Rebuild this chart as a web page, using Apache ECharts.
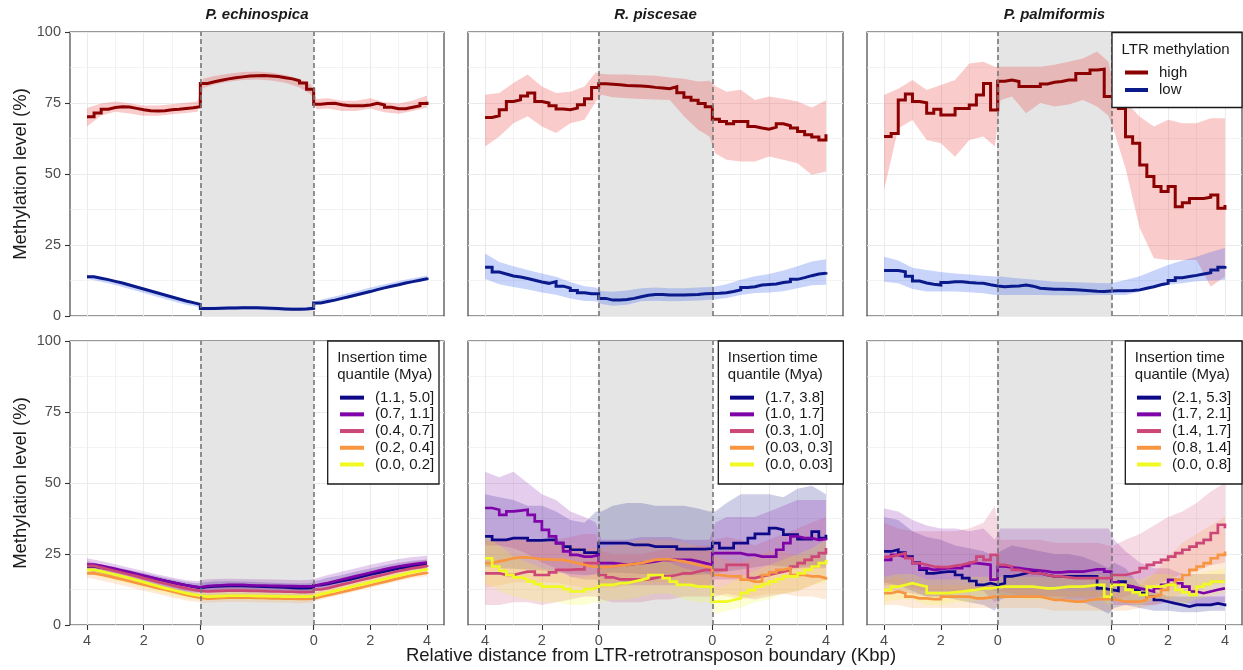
<!DOCTYPE html>
<html>
<head>
<meta charset="utf-8">
<script src="https://cdn.jsdelivr.net/npm/echarts@6/dist/echarts.min.js"></script>
<style>html,body{margin:0;padding:0;background:#fff;}#chart{width:1243px;height:670px;}</style>
</head>
<body>
<div id="chart"></div>
<script>
// ---------------- DATA ----------------
const SPECIES = ['P. echinospica', 'R. piscesae', 'P. palmiformis'];
const METH_GROUPS = ['high', 'low'];
const AGE_LABELS_PE = ['(1.1, 5.0]', '(0.7, 1.1]', '(0.4, 0.7]', '(0.2, 0.4]', '(0.0, 0.2]'];
const AGE_LABELS_RP = ['(1.7, 3.8]', '(1.0, 1.7]', '(0.3, 1.0]', '(0.03, 0.3]', '(0.0, 0.03]'];
const AGE_LABELS_PP = ['(2.1, 5.3]', '(1.7, 2.1]', '(1.4, 1.7]', '(0.8, 1.4]', '(0.0, 0.8]'];
const X_TICKS = [-4, -2, 0, 4, 6, 8];
const X_TICK_LABELS = ['4', '2', '0', '0', '2', '4'];
const X_MINOR = [-3, -1, 1, 2, 3, 5, 7];
const BODY_START = 0, BODY_END = 4;

// bin positions for mean step lines (left flank -4..0, body 0..4, right flank 4..8)
const X = [-4,-3.75,-3.5,-3.25,-3,-2.75,-2.5,-2.25,-2,-1.75,-1.5,-1.25,-1,-0.75,-0.5,-0.25,
  0,0.25,0.5,0.75,1,1.25,1.5,1.75,2,2.25,2.5,2.75,3,3.25,3.5,3.75,
  4,4.25,4.5,4.75,5,5.25,5.5,5.75,6,6.25,6.5,6.75,7,7.25,7.5,7.75,8];
// positions for ribbons
const RX = [-4,-3.5,-3,-2.5,-2,-1.5,-1,-0.5,-0.1,0.1,0.5,1,1.5,2,2.5,3,3.5,3.9,4.1,4.5,5,5.5,6,6.5,7,7.5,8];

// ---- top row: LTR methylation high / low ----
const pe_high = [70.2,71.5,72.8,73.4,73.7,73.6,73.1,72.6,72.3,72.2,72.3,72.6,72.8,73.1,73.3,73.7,
  81.9,82.5,83.0,83.5,83.9,84.2,84.5,84.6,84.7,84.5,84.3,83.9,83.5,82.8,82.0,79.8,
  74.6,74.8,74.9,74.4,74.0,74.0,74.0,74.3,74.9,74.3,73.5,73.0,73.0,73.5,74.0,74.8,75.4];
const pe_high_lo = [66.7,70.6,71.9,71.3,70.5,70.5,71.0,71.5,71.9,80.3,81.5,82.5,83.1,83.3,82.9,82.1,80.5,78.1,72.8,73.1,72.2,72.2,73.1,71.7,71.2,72.2,73.4];
const pe_high_hi = [73.2,74.8,75.5,74.9,74.1,74.1,74.6,75.1,75.5,83.5,84.5,85.3,85.9,86.1,85.7,84.9,83.5,81.5,76.4,76.7,75.8,75.8,76.7,75.3,74.8,75.9,77.6];
const pe_low = [13.8,13.3,12.8,12.2,11.6,10.9,10.2,9.5,8.8,8.1,7.4,6.7,6.0,5.3,4.7,4.1,
  2.6,2.6,2.7,2.8,2.8,2.9,2.9,2.9,2.8,2.7,2.6,2.5,2.4,2.4,2.5,2.7,
  4.6,5.1,5.6,6.2,6.8,7.4,8.0,8.6,9.3,9.9,10.5,11.0,11.6,12.1,12.6,13.1,13.6];
const pe_low_lo = [13.1,12.1,10.9,9.5,8.1,6.7,5.3,4.0,3.3,2.0,2.1,2.2,2.3,2.2,2.0,1.8,1.9,2.1,4.0,4.9,6.1,7.3,8.6,9.8,10.9,11.9,12.9];
const pe_low_hi = [14.5,13.5,12.3,10.9,9.5,8.1,6.7,5.4,4.7,3.2,3.3,3.4,3.5,3.4,3.2,3.0,3.1,3.3,5.4,6.3,7.5,8.7,10.0,11.2,12.3,13.3,14.3];

const rp_high = [69.9,70.5,72.6,75.5,76.1,77.5,78.5,75.5,75.0,74.0,72.9,72.6,73.2,74.4,76.5,80.5,
  81.8,81.6,81.4,81.2,81.1,81.0,80.8,80.5,80.3,80.0,80.7,78.6,77.0,76.0,74.8,73.7,
  69.3,68.5,67.7,68.5,68.5,66.7,66.2,65.8,66.5,67.7,67.0,66.2,65.0,63.8,63.0,62.0,64.0];
const rp_high_lo = [59.7,63.2,67.9,70.3,66.7,64.4,67.9,69.1,75.5,77.9,77.0,76.7,76.4,76.2,76.1,70.3,65.6,63.2,57.3,55.0,54.4,54.4,56.2,55.0,53.8,49.7,50.9];
const rp_high_hi = [77.9,78.5,82.0,85.0,80.8,78.5,79.0,80.8,85.8,85.2,85.0,85.0,84.8,84.6,84.0,83.5,82.6,82.8,81.0,79.0,79.7,76.1,77.3,76.5,75.5,73.4,75.9];
const rp_low = [17.2,15.5,14.8,14.1,13.7,13.2,12.6,12.0,11.5,12.1,10.5,9.8,9.0,8.2,7.8,7.8,
  6.2,5.6,5.6,5.8,6.2,6.8,7.3,7.6,7.6,7.4,7.4,7.4,7.5,7.6,7.8,7.9,
  8.0,8.2,8.6,9.2,10.0,10.3,10.9,11.1,11.3,11.8,12.1,12.9,13.5,14.2,14.8,15.1,15.4];
const rp_low_lo = [13.0,11.2,10.2,9.3,8.3,7.5,6.2,5.3,5.2,4.2,3.6,4.0,5.2,5.4,5.2,5.3,5.5,5.7,5.8,6.3,7.4,8.1,8.3,8.7,9.8,10.8,11.0];
const rp_low_hi = [22.0,19.0,17.5,16.2,15.0,13.8,12.0,10.5,10.0,8.8,8.5,9.0,9.8,10.0,9.8,9.8,10.0,10.2,10.4,11.2,12.8,14.0,14.8,16.0,17.5,19.2,20.0];

const pp_high = [63.2,64.3,76.1,78.2,75.5,75.1,71.4,72.8,70.8,70.8,73.1,73.1,74.3,77.8,81.9,72.5,
  82.7,83.1,82.6,80.8,80.8,80.8,81.7,82.3,82.6,83.1,83.1,85.4,85.4,86.6,86.9,77.3,
  77.1,73.1,63.1,60.8,53.2,49.1,45.6,43.8,45.6,38.5,39.9,41.4,41.4,41.8,42.6,37.9,39.1];
const pp_high_lo = [44.4,66.0,69.0,62.0,60.8,56.1,62.0,63.2,59.7,76.0,77.3,71.4,75.0,73.8,74.5,76.1,73.8,70.5,65.0,52.0,31.0,20.3,19.7,19.7,19.7,10.3,13.9];
const pp_high_hi = [77.8,80.0,83.1,79.6,81.3,83.1,88.9,89.5,87.8,87.8,87.8,87.8,87.8,88.5,89.5,90.7,93.1,89.5,80.0,75.5,70.2,66.7,69.1,67.9,67.9,69.6,69.6];
const pp_low = [16.0,16.0,15.6,14.0,12.3,11.6,11.2,10.9,11.8,12.1,12.1,11.8,11.6,11.5,11.0,10.6,
  10.3,10.5,10.6,10.9,10.5,9.8,9.6,9.4,9.4,9.3,9.2,9.1,8.9,8.7,8.6,8.8,
  8.9,8.9,9.0,9.2,9.8,10.3,11.0,11.5,12.5,13.5,13.9,14.3,14.8,15.2,16.2,17.2,17.6];
const pp_low_lo = [12.1,11.5,9.5,8.6,8.6,8.6,8.4,8.0,7.4,7.4,7.4,7.4,7.4,7.3,7.3,7.3,7.4,7.4,7.4,7.4,8.5,10.0,11.0,11.5,12.2,12.5,12.7];
const pp_low_hi = [20.9,19.5,17.0,16.2,15.5,15.0,14.6,14.2,13.9,13.9,13.5,13.0,12.6,12.1,12.0,11.8,11.6,11.5,11.8,12.7,14.0,16.0,18.0,19.5,20.9,22.5,23.9];

// ---- bottom row: insertion time quantiles (q1 = oldest ... q5 = youngest) ----
const pe_q1 = [20.6,20.2,19.8,19.3,18.8,18.3,17.8,17.2,16.7,16.1,15.6,15.0,14.5,14.0,13.5,13.1,
  13.4,13.6,13.7,13.8,13.8,13.8,13.7,13.6,13.5,13.4,13.3,13.2,13.1,13.0,13.0,13.1,
  14.0,14.5,15.0,15.5,16.0,16.6,17.2,17.8,18.3,18.9,19.4,19.9,20.3,20.7,21.0,21.3,21.5];
const pe_q2 = [21.3,20.8,20.3,19.8,19.2,18.6,18.0,17.4,16.8,16.2,15.6,15.0,14.5,14.0,13.6,13.3,
  13.7,13.9,14.0,14.1,14.1,14.1,14.0,13.9,13.9,13.8,13.8,13.7,13.7,13.6,13.6,13.7,
  14.3,14.8,15.4,16.0,16.6,17.2,17.8,18.4,19.0,19.6,20.1,20.6,21.0,21.4,21.7,22.0,22.2];
const pe_q3 = [20.8,20.2,19.6,19.0,18.4,17.8,17.2,16.5,15.9,15.2,14.6,14.0,13.4,12.9,12.4,12.0,
  11.8,11.9,12.0,12.1,12.1,12.1,12.0,12.0,11.9,11.8,11.8,11.7,11.7,11.6,11.6,11.7,
  12.5,13.0,13.6,14.2,14.8,15.4,16.0,16.6,17.2,17.8,18.4,19.0,19.5,20.0,20.4,20.8,21.1];
const pe_q4 = [18.2,17.7,17.2,16.6,16.0,15.4,14.8,14.2,13.6,13.0,12.4,11.8,11.2,10.6,10.1,9.6,
  9.3,9.4,9.5,9.6,9.6,9.6,9.6,9.5,9.5,9.4,9.4,9.3,9.3,9.2,9.2,9.3,
  10.0,10.5,11.0,11.6,12.2,12.8,13.4,14.0,14.6,15.2,15.8,16.4,17.0,17.5,18.0,18.4,18.7];
const pe_q5 = [19.4,18.9,18.3,17.7,17.1,16.5,15.8,15.1,14.4,13.7,13.0,12.4,11.8,11.2,10.7,10.3,
  10.0,10.1,10.2,10.3,10.3,10.3,10.3,10.2,10.2,10.1,10.1,10.0,10.0,10.0,10.0,10.1,
  10.8,11.4,12.0,12.6,13.2,13.8,14.4,15.0,15.6,16.2,16.8,17.4,18.0,18.6,19.1,19.6,20.0];
const pe_q1_lo = [19.0,18.2,17.2,16.2,15.1,14.0,12.9,11.9,11.5,11.8,12.1,12.2,12.1,11.9,11.7,11.5,11.4,11.5,12.4,13.4,14.4,15.6,16.7,17.8,18.7,19.4,19.9];
const pe_q1_hi = [22.2,21.4,20.4,19.4,18.3,17.2,16.1,15.1,14.7,15.0,15.3,15.4,15.3,15.1,14.9,14.7,14.6,14.7,15.6,16.6,17.6,18.8,19.9,21.0,21.9,22.6,23.1];
const pe_q2_lo = [19.1,18.1,17.0,15.8,14.6,13.4,12.3,11.4,11.1,11.5,11.8,11.9,11.8,11.7,11.6,11.5,11.4,11.5,12.1,13.2,14.4,15.6,16.8,17.9,18.8,19.5,20.0];
const pe_q2_hi = [23.5,22.5,21.4,20.2,19.0,17.8,16.7,15.8,15.5,15.9,16.2,16.3,16.2,16.1,16.0,15.9,15.8,15.9,16.5,17.6,18.8,20.0,21.2,22.3,23.2,23.9,24.4];
const pe_q3_lo = [19.0,17.8,16.6,15.4,14.1,12.8,11.6,10.6,10.2,10.0,10.2,10.3,10.2,10.1,10.0,9.9,9.8,9.9,10.7,11.8,13.0,14.2,15.4,16.6,17.7,18.6,19.3];
const pe_q3_hi = [22.6,21.4,20.2,19.0,17.7,16.4,15.2,14.2,13.8,13.6,13.8,13.9,13.8,13.7,13.6,13.5,13.4,13.5,14.3,15.4,16.6,17.8,19.0,20.2,21.3,22.2,22.9];
const pe_q4_lo = [16.7,15.7,14.5,13.3,12.1,10.9,9.7,8.6,8.1,7.8,8.0,8.1,8.1,8.0,7.9,7.8,7.7,7.8,8.5,9.5,10.7,11.9,13.1,14.3,15.5,16.5,17.2];
const pe_q4_hi = [19.7,18.7,17.5,16.3,15.1,13.9,12.7,11.6,11.1,10.8,11.0,11.1,11.1,11.0,10.9,10.8,10.7,10.8,11.5,12.5,13.7,14.9,16.1,17.3,18.5,19.5,20.2];
const pe_q5_lo = [18.0,16.9,15.7,14.4,13.0,11.6,10.4,9.3,8.9,8.6,8.8,8.9,8.9,8.8,8.7,8.6,8.6,8.7,9.4,10.6,11.8,13.0,14.2,15.4,16.6,17.7,18.6];
const pe_q5_hi = [20.8,19.7,18.5,17.2,15.8,14.4,13.2,12.1,11.7,11.4,11.6,11.7,11.7,11.6,11.5,11.4,11.4,11.5,12.2,13.4,14.6,15.8,17.0,18.2,19.4,20.5,21.4];

const rp_q1 = [31.2,30.0,30.0,30.6,30.6,30.6,29.8,29.8,30.0,30.0,28.8,27.6,26.5,26.5,25.5,25.5,
  28.8,28.8,28.8,28.8,28.2,28.2,28.2,27.6,27.6,27.6,27.6,26.7,26.7,26.7,26.7,26.9,
  28.8,27.1,27.1,28.8,28.8,30.6,32.1,32.1,34.1,33.5,31.8,31.8,30.2,30.2,32.9,30.6,31.8];
const rp_q2 = [41.2,40.6,38.8,40.0,40.3,40.6,38.8,36.5,33.5,31.2,28.8,25.9,24.7,24.1,24.1,24.7,
  21.8,21.8,21.5,21.2,21.5,21.8,22.0,22.4,22.9,22.9,22.9,22.9,22.9,22.4,21.8,21.2,
  25.3,25.3,25.3,25.3,24.7,24.7,24.1,24.1,24.1,26.5,28.8,31.2,30.6,30.6,30.0,30.3,30.6];
const rp_q3 = [18.2,18.2,17.6,17.6,18.2,18.8,18.8,17.6,17.6,18.5,19.4,19.4,19.6,19.6,21.8,21.8,
  17.6,16.8,16.1,16.1,16.1,16.1,16.1,16.6,17.1,17.1,17.6,18.2,18.2,18.8,19.4,19.4,
  19.4,19.4,21.2,21.2,21.2,16.5,17.1,17.6,18.2,18.8,19.4,20.6,21.8,22.9,24.1,25.3,27.1];
const rp_q4 = [21.8,22.4,22.9,23.5,23.8,23.8,23.5,23.1,23.1,22.9,22.9,22.4,21.8,21.2,20.6,20.5,
  20.4,20.6,21.0,21.2,21.5,21.8,22.4,22.9,23.1,23.1,22.7,22.4,21.8,21.2,20.6,20.3,
  17.6,17.3,17.1,17.1,16.0,15.3,15.3,17.6,18.5,19.4,20.0,17.6,17.6,17.1,17.1,16.5,15.9];
const rp_q5 = [23.5,20.6,19.1,17.6,16.8,16.1,15.3,14.4,13.5,13.5,13.5,12.6,11.8,11.8,12.6,13.3,
  14.1,14.1,14.7,14.7,15.3,15.9,16.5,17.6,17.6,16.5,15.3,14.1,14.1,13.5,13.5,13.3,
  8.2,8.2,8.8,9.4,11.2,12.3,13.5,14.4,15.3,16.2,17.1,17.1,18.2,19.4,20.6,21.8,22.9];
const rp_q1_lo = [20.5,20.0,19.8,19.5,19.2,18.6,18.0,17.6,17.8,18.2,18.5,18.3,18.0,17.8,17.6,17.5,17.6,17.8,18.2,18.8,19.5,20.3,21.0,20.6,20.2,20.8,21.0];
const rp_q1_hi = [46,45,44,42,42,40,37,36,40,40,42,43,43,42,42,42,41,40,40,43,46,46,46,45,48,49,46];
const rp_q2_lo = [28,28,27,25,22,20,17,16,16,14,14,14,14,14,14,14,14,14,16,16,16,17,18,19,20,20,20];
const rp_q2_hi = [54,52,54,50,46,44,40,38,36,30,30,30,31,31,31,30,30,30,36,38,38,38,40,42,44,44,44];
const rp_q3_lo = [7,7,8,8,7,8,9,10,10,9,8,8,8,9,9,10,10,10,10,11,10,9,10,11,12,14,16];
const rp_q3_hi = [30,30,30,30,29,30,31,32,32,26,25,25,25,26,27,27,28,28,30,31,30,28,30,32,34,36,38];
const rp_q4_lo = [13,14,15,15,15,15,14,13,13,13,13,14,15,15,15,14,13,13,11,10,9,10,11,11,10,10,9];
const rp_q4_hi = [29,30,30,30,30,29,28,27,27,27,28,29,30,30,30,29,28,27,24,23,22,24,26,26,24,24,23];
const rp_q5_lo = [15,12,10,9,8,8,7,7,8,8,9,9,10,11,11,9,8,8,4,5,6,8,9,11,12,14,15];
const rp_q5_hi = [32,28,24,22,20,19,17,17,18,20,20,21,22,23,22,20,19,18,13,14,17,19,21,23,25,27,30];

const pp_q1 = [25.9,26.5,25.5,24.1,22.0,19.5,18.2,18.5,18.8,18.8,17.6,16.5,15.5,14.1,14.7,14.1,
  14.7,17.1,17.6,18.2,18.8,18.2,17.6,17.1,17.1,17.1,17.1,17.1,17.1,17.1,12.9,12.4,
  12.0,15.3,13.5,12.4,11.2,10.0,8.8,8.2,7.6,7.1,6.5,7.1,7.1,7.1,7.6,7.1,7.6];
const pp_q2 = [22.9,24.7,24.0,23.5,21.8,20.0,19.4,19.7,20.0,20.0,20.0,20.8,21.8,21.5,21.2,16.0,
  20.6,20.3,20.0,19.7,19.4,19.2,18.9,18.5,18.5,18.8,18.8,18.8,19.2,19.6,19.6,18.8,
  15.0,14.1,13.5,12.9,12.4,11.8,13.0,14.1,15.9,14.7,13.5,11.8,11.2,11.8,12.4,12.9,12.9];
const pp_q3 = [24.1,24.7,25.3,23.5,21.8,21.2,20.6,20.4,20.4,20.8,21.2,21.8,22.4,24.1,22.9,24.7,
  21.2,20.6,19.4,18.8,18.2,18.2,17.6,17.1,17.1,16.8,16.5,16.5,16.5,16.5,16.5,16.5,
  17.6,17.6,18.2,18.8,20.0,21.2,22.0,22.9,24.1,25.3,26.5,27.6,28.8,30.0,32.4,35.3,34.1];
const pp_q4 = [11.2,11.8,11.2,10.0,9.4,9.4,9.1,9.1,10.0,10.0,10.0,10.0,9.4,9.4,9.7,10.0,
  10.0,10.0,10.0,10.0,10.0,10.0,9.4,8.8,8.8,8.5,8.2,8.2,8.8,9.1,9.1,9.1,
  8.8,8.2,8.2,8.2,8.8,10.0,10.6,12.4,14.1,16.0,17.6,19.4,20.6,21.8,23.5,24.7,25.9];
const pp_q5 = [12.4,13.5,14.1,14.7,14.1,13.5,11.2,11.2,11.2,11.5,11.8,12.1,12.4,12.9,12.9,13.2,
  13.5,13.5,13.5,13.5,13.5,13.2,12.9,12.9,13.2,13.5,13.5,13.5,13.8,14.1,14.1,10.0,
  14.1,14.1,12.4,11.5,10.6,13.5,13.5,14.1,14.1,12.4,11.5,10.6,13.5,14.4,15.3,15.3,15.3];
const pp_q1_lo = [15,14,12,10,10,9,8,7,5,9,10,10,10,9,9,8,6,4,6,7,6,5,5,4.5,4.5,5,5];
const pp_q1_hi = [38,37,33,31,30,28,27,26,24,26,28,27,26,25,25,24,22,20,22,20,14,12,10,10,10,10,10];
const pp_q2_lo = [12,12,11,10,10,11,12,12,8,10,10,10,10,10,10,10,10,10,7,7,7,7,8,8,7,7,8];
const pp_q2_hi = [41,40,37,35,34,34,33,34,30,34,34,34,34,34,34,34,34,34,30,26,22,20,20,18,18,18,18];
const pp_q3_lo = [14,14,13,12,12,12,12,13,12,12,11,10,10,9,9,9,9,9,9,10,12,14,16,18,19,21,22];
const pp_q3_hi = [36,34,33,33,33,33,34,36,42,30,30,30,30,29,29,29,29,28,28,30,32,35,38,40,43,47,50];
const pp_q4_lo = [7,7,6,6,6,6,6,6,6,6,6,6,6,5,5,5,5,5,5,5,6,7,9,11,12,14,15];
const pp_q4_hi = [16,17,15,14,14,14,14,14,14,13,13,13,13,12,12,12,12,12,12,12,14,18,24,29,32,35,38];
const pp_q5_lo = [8,9,9,7,7,8,8,9,9,10,10,9,9,9,10,10,10,7,10,8,7,9,9,7,9,10,11];
const pp_q5_hi = [17,18,18,16,16,16,17,17,17,17,17,17,17,17,17,17,18,17,18,17,16,18,18,16,18,19,20];

// ---------------- STYLE ----------------
const FONT = '"Liberation Sans", Arial, Helvetica, sans-serif';
const METH_COLORS = ['#8b0000', '#0a1a8b'];
const METH_FILLS = ['rgba(238,70,70,0.28)', 'rgba(60,100,240,0.28)'];
const AGE_COLORS = ['#0d0887', '#7e03a8', '#cc4778', '#f89540', '#f0f921'];

const GRID_COLS = [{left: 70, width: 374}, {left: 468, width: 375}, {left: 867, width: 375}];
const GRID_ROWS = [{top: 32, height: 284}, {top: 341, height: 284}];

const TOP_PANELS = [
  {means: [pe_high, pe_low], lo: [pe_high_lo, pe_low_lo], hi: [pe_high_hi, pe_low_hi]},
  {means: [rp_high, rp_low], lo: [rp_high_lo, rp_low_lo], hi: [rp_high_hi, rp_low_hi]},
  {means: [pp_high, pp_low], lo: [pp_high_lo, pp_low_lo], hi: [pp_high_hi, pp_low_hi]}
];
const BOTTOM_PANELS = [
  {labels: AGE_LABELS_PE, means: [pe_q1, pe_q2, pe_q3, pe_q4, pe_q5],
   lo: [pe_q1_lo, pe_q2_lo, pe_q3_lo, pe_q4_lo, pe_q5_lo], hi: [pe_q1_hi, pe_q2_hi, pe_q3_hi, pe_q4_hi, pe_q5_hi]},
  {labels: AGE_LABELS_RP, means: [rp_q1, rp_q2, rp_q3, rp_q4, rp_q5],
   lo: [rp_q1_lo, rp_q2_lo, rp_q3_lo, rp_q4_lo, rp_q5_lo], hi: [rp_q1_hi, rp_q2_hi, rp_q3_hi, rp_q4_hi, rp_q5_hi]},
  {labels: AGE_LABELS_PP, means: [pp_q1, pp_q2, pp_q3, pp_q4, pp_q5],
   lo: [pp_q1_lo, pp_q2_lo, pp_q3_lo, pp_q4_lo, pp_q5_lo], hi: [pp_q1_hi, pp_q2_hi, pp_q3_hi, pp_q4_hi, pp_q5_hi]}
];

// ---------------- BUILD OPTION ----------------
const grids = [], xAxes = [], yAxes = [], series = [];

function xLabel(v) {
  const i = X_TICKS.indexOf(v);
  return i >= 0 ? X_TICK_LABELS[i] : '';
}

for (let r = 0; r < 2; r++) {
  for (let c = 0; c < 3; c++) {
    const g = r * 3 + c;
    grids.push({left: GRID_COLS[c].left, width: GRID_COLS[c].width, top: GRID_ROWS[r].top, height: GRID_ROWS[r].height,
      show: true, borderColor: '#333333', borderWidth: 1.1, backgroundColor: 'transparent', containLabel: false});
    const bottomRow = r === 1;
    xAxes.push({
      gridIndex: g, type: 'value', min: -4.6, max: 8.6, position: 'bottom',
      axisLine: {show: false, onZero: false},
      axisTick: {show: bottomRow, customValues: X_TICKS, length: 5, lineStyle: {color: '#333333', width: 1.1}},
      axisLabel: {show: bottomRow, customValues: X_TICKS, formatter: xLabel, fontSize: 14.5, color: '#4d4d4d', margin: 8, fontFamily: FONT},
      splitLine: {show: true, lineStyle: {color: '#ebebeb', width: 1.1}}
    });
    xAxes.push({
      gridIndex: g, type: 'value', min: -4.6, max: 8.6, position: 'bottom',
      axisLine: {show: false, onZero: false},
      axisTick: {show: false, customValues: X_MINOR},
      axisLabel: {show: false, customValues: X_MINOR},
      splitLine: {show: true, lineStyle: {color: '#ebebeb', width: 0.6}}
    });
    yAxes.push({
      gridIndex: g, type: 'value', min: 0, max: 100, interval: 25, position: 'left',
      axisLine: {show: false, onZero: false},
      axisTick: {show: false},
      axisLabel: {show: false},
      splitLine: {show: true, lineStyle: {color: '#ebebeb', width: 1.1}},
      minorTick: {show: false, splitNumber: 2},
      minorSplitLine: {show: true, lineStyle: {color: '#ebebeb', width: 0.6}}
    });
  }
}
// overlay grids carrying only the y tick marks and labels of the left column
GRID_ROWS.forEach((row) => {
  const g = grids.length;
  grids.push({left: GRID_COLS[0].left, width: GRID_COLS[0].width, top: row.top, height: row.height, show: false});
  xAxes.push({gridIndex: g, type: 'value', min: 0, max: 1, show: false});
  yAxes.push({
    gridIndex: g, type: 'value', min: 0, max: 100, interval: 25, position: 'left',
    axisLine: {show: false, onZero: false},
    axisTick: {show: true, length: 5, lineStyle: {color: '#333333', width: 1.1}},
    axisLabel: {show: true, fontSize: 14.5, color: '#4d4d4d', margin: 9, fontFamily: FONT},
    splitLine: {show: false}
  });
});

function ribbonSeries(g, lo, hi, fill, opacity) {
  return {
    type: 'custom', name: 'ribbon', xAxisIndex: 2 * g, yAxisIndex: g, z: 2, silent: true,
    data: RX.map((x, i) => [x, lo[i], hi[i]]),
    encode: {x: 0, y: [1, 2]},
    renderItem: function (params, api) {
      if (params.dataIndex !== 0) return null;
      const pts = [];
      for (let i = 0; i < RX.length; i++) pts.push(api.coord([RX[i], hi[i]]));
      for (let i = RX.length - 1; i >= 0; i--) pts.push(api.coord([RX[i], lo[i]]));
      return {type: 'polygon', shape: {points: pts}, style: {fill: fill, opacity: opacity}};
    }
  };
}

function lineSeries(g, name, vals, color, width, withMarkers) {
  const s = {
    type: 'line', name: name, xAxisIndex: 2 * g, yAxisIndex: g, z: 3,
    data: X.map((x, i) => [x, vals[i]]),
    step: 'end', showSymbol: false, symbol: 'none', clip: true, silent: true,
    lineStyle: {color: color, width: width, cap: 'butt', join: 'miter'},
    itemStyle: {color: color}
  };
  if (withMarkers) {
    s.markArea = {silent: true, itemStyle: {color: '#e5e5e5'}, data: [[{xAxis: BODY_START}, {xAxis: BODY_END}]]};
    s.markLine = {silent: true, symbol: ['none', 'none'], label: {show: false},
      lineStyle: {color: '#777777', type: [5, 3], width: 1.6},
      data: [{xAxis: BODY_START}, {xAxis: BODY_END}]};
  }
  return s;
}

// top row
TOP_PANELS.forEach((p, c) => {
  const g = c;
  p.means.forEach((m, k) => series.push(ribbonSeries(g, p.lo[k], p.hi[k], METH_FILLS[k], 1)));
  p.means.forEach((m, k) => series.push(lineSeries(g, METH_GROUPS[k], m, METH_COLORS[k], 3, k === 0)));
});
// bottom row
BOTTOM_PANELS.forEach((p, c) => {
  const g = 3 + c;
  p.means.forEach((m, k) => series.push(ribbonSeries(g, p.lo[k], p.hi[k], AGE_COLORS[k], 0.2)));
  p.means.forEach((m, k) => series.push(lineSeries(g, p.labels[k], m, AGE_COLORS[k], 2.7, k === 0)));
});

// legends
const legends = [{
  data: METH_GROUPS, left: 1125, top: 63.75, orient: 'vertical', icon: 'rect', itemWidth: 23, itemHeight: 4,
  itemGap: 0, padding: 0, selectedMode: false, z: 20,
  textStyle: {fontSize: 15, color: '#1a1a1a', fontFamily: FONT, lineHeight: 17.5, padding: [0, 0, 0, 6]}
}];
const AGE_LEG_LEFT = [340, 730, 1137];
BOTTOM_PANELS.forEach((p, c) => {
  legends.push({
    data: p.labels, left: AGE_LEG_LEFT[c], top: 389.3, orient: 'vertical', icon: 'rect', itemWidth: 24, itemHeight: 4,
    itemGap: 0, padding: 0, selectedMode: false, z: 20,
    textStyle: {fontSize: 15, color: '#1a1a1a', fontFamily: FONT, lineHeight: 16.7, padding: [0, 0, 0, 6]}
  });
});

// graphic: strip titles, axis titles, legend boxes
const graphic = [];
SPECIES.forEach((sp, c) => {
  graphic.push({type: 'text', x: GRID_COLS[c].left + GRID_COLS[c].width / 2, y: 15, silent: true,
    style: {text: sp, align: 'center', verticalAlign: 'middle', fontSize: 15, fontWeight: 'bold', fontStyle: 'italic',
      fontFamily: FONT, fill: '#1a1a1a'}});
});
[174, 483].forEach(yc => {
  graphic.push({type: 'text', x: 21, y: yc, rotation: Math.PI / 2, silent: true,
    style: {text: 'Methylation level (%)', align: 'center', verticalAlign: 'middle', fontSize: 18.5, fontFamily: FONT, fill: '#1a1a1a'}});
});
graphic.push({type: 'text', x: 651, y: 656, silent: true,
  style: {text: 'Relative distance from LTR-retrotransposon boundary (Kbp)', align: 'center', verticalAlign: 'middle',
    fontSize: 18.5, fontFamily: FONT, fill: '#1a1a1a'}});
// legend boxes
graphic.push({type: 'rect', z: 15, silent: true, shape: {x: 1112, y: 32.5, width: 130, height: 75},
  style: {fill: '#ffffff', stroke: '#1a1a1a', lineWidth: 1.3}});
graphic.push({type: 'text', z: 16, x: 1121.5, y: 49.5, silent: true,
  style: {text: 'LTR methylation', align: 'left', verticalAlign: 'middle', fontSize: 15, fontFamily: FONT, fill: '#1a1a1a'}});
const AGE_BOX = [{x: 327.7, w: 111.3}, {x: 718.3, w: 125}, {x: 1125.3, w: 116.7}];
AGE_BOX.forEach(b => {
  graphic.push({type: 'rect', z: 15, silent: true, shape: {x: b.x, y: 341, width: b.w, height: 143},
    style: {fill: '#ffffff', stroke: '#1a1a1a', lineWidth: 1.3}});
  graphic.push({type: 'text', z: 16, x: b.x + 9.5, y: 357.5, silent: true,
    style: {text: 'Insertion time', align: 'left', verticalAlign: 'middle', fontSize: 15, fontFamily: FONT, fill: '#1a1a1a'}});
  graphic.push({type: 'text', z: 16, x: b.x + 9.5, y: 375, silent: true,
    style: {text: 'quantile (Mya)', align: 'left', verticalAlign: 'middle', fontSize: 15, fontFamily: FONT, fill: '#1a1a1a'}});
});

const option = {
  animation: false,
  backgroundColor: '#ffffff',
  textStyle: {fontFamily: FONT},
  grid: grids, xAxis: xAxes, yAxis: yAxes, series: series, legend: legends, graphic: graphic
};

const chart = echarts.init(document.getElementById('chart'), null, {renderer: 'canvas'});
chart.setOption(option);
</script>
</body>
</html>
